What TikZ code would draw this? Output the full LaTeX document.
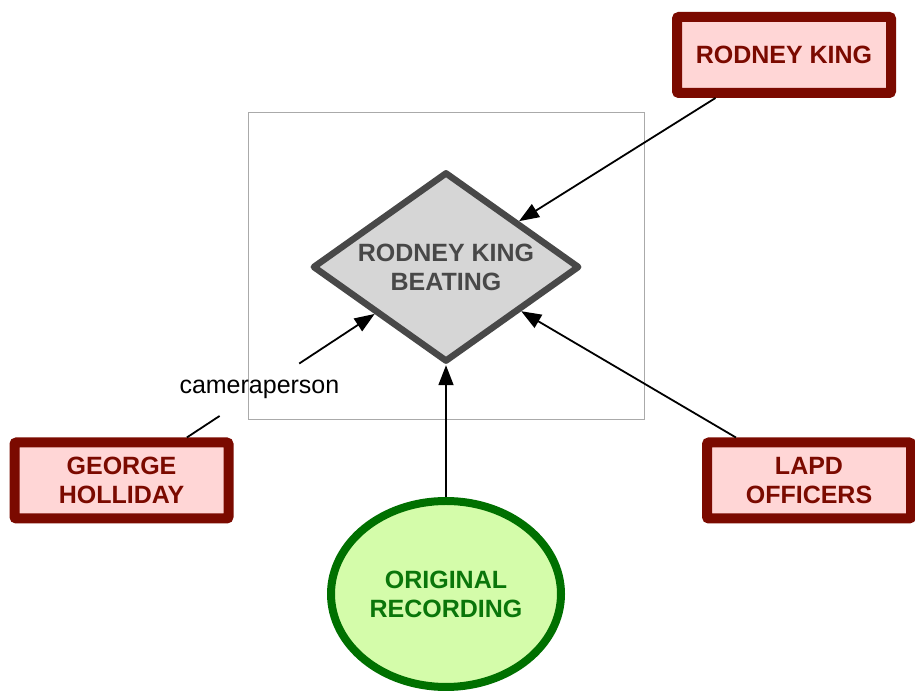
\documentclass[tikz,border=0pt]{standalone}
\usepackage{fontspec}
\setmainfont{Liberation Sans}
\usetikzlibrary{arrows.meta}
\usetikzlibrary{positioning}
\usetikzlibrary{shapes.geometric}

\definecolor{kingred}{RGB}{123,10,0}
\definecolor{kingpink}{RGB}{255,214,214}
\definecolor{beatfill}{RGB}{214,214,214}
\definecolor{beatline}{RGB}{72,72,72}
\definecolor{recline}{RGB}{0,112,0}
\definecolor{recfill}{RGB}{212,252,170}
\definecolor{rectext}{RGB}{10,118,10}
\definecolor{framegray}{RGB}{170,170,170}

\begin{document}
\begin{tikzpicture}[x=1pt, y=1pt,
    every node/.style={font=\fontsize{25}{29}\selectfont},
    agent/.style={draw=kingred, line width=10pt, fill=kingpink, text=kingred,
      font=\bfseries\fontsize{25}{29}\selectfont, align=center,
      rounded corners=2pt, minimum width=214pt, minimum height=76pt, inner sep=0pt},
    event/.style={diamond, draw=beatline, line width=6.5pt, line join=round,
      fill=beatfill, text=beatline, font=\bfseries\fontsize{25}{29}\selectfont,
      align=center, aspect=1.42, minimum width=267pt, minimum height=190pt, inner sep=0pt},
    record/.style={ellipse, draw=recline, line width=8pt, fill=recfill, text=rectext,
      font=\bfseries\fontsize{25}{29}\selectfont, align=center,
      minimum width=230pt, minimum height=186pt, inner sep=0pt},
    link/.style={line width=1.8pt, -{Triangle[length=20pt,width=15pt]}}
  ]
  \useasboundingbox (0,0) rectangle (915,692);
  \node[event] (beat) at (446,425) {RODNEY KING\\BEATING};
  \node[draw=framegray, line width=0.8pt, minimum width=396pt, minimum height=307pt] (scene) at (446,426.5) {};
  \node[agent, on grid, above right=212pt and 338pt of beat] (rk) {RODNEY KING};
  \node[agent, on grid, below left=213.5pt and 324.5pt of beat] (gh) {GEORGE\\HOLLIDAY};
  \node[agent, on grid, below right=213.5pt and 363pt of beat, minimum width=204pt] (lapd) {LAPD\\OFFICERS};
  \node[record, on grid, below=327pt of beat] (rec) {ORIGINAL\\RECORDING};
  \path (gh.center) -- node[pos=0.425, inner sep=2pt, minimum height=52pt] (cam) {cameraperson} (beat.center);

  \draw[link] (rk) -- (beat);
  \draw[line width=1.8pt] (gh) -- (cam);
  \draw[link] (cam) -- (beat);
  \draw[link] (lapd) -- (beat);
  \draw[link] (rec) -- (beat);
\end{tikzpicture}
\end{document}
